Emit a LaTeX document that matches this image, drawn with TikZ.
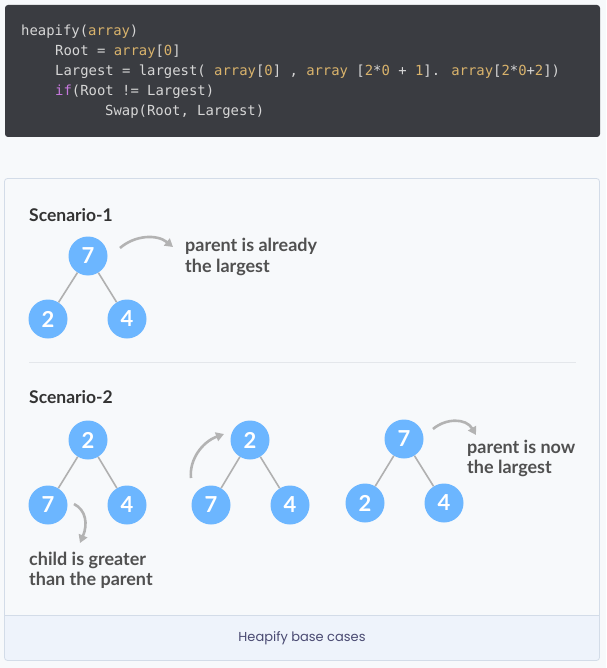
\documentclass[tikz,border=0pt]{standalone}
\usepackage{fontspec}
\setmainfont{Lato}
\newfontfamily\codefont{DejaVu Sans Mono}
\newfontfamily\capfont{Poppins}
\usetikzlibrary{arrows.meta}
\definecolor{bgc}{HTML}{F7F9FB}
\definecolor{codebg}{HTML}{3A3C41}
\definecolor{codetxt}{HTML}{D6D6D6}
\definecolor{codeorg}{HTML}{D9B36C}
\definecolor{codepur}{HTML}{C678DD}
\definecolor{framec}{HTML}{D3DCE8}
\definecolor{capbg}{HTML}{EEF3FB}
\definecolor{captxt}{HTML}{4A4A72}
\definecolor{nodeblue}{HTML}{6CB6FF}
\definecolor{edgec}{HTML}{B0B0B0}
\definecolor{arrc}{HTML}{B3B3B3}
\definecolor{notec}{HTML}{505050}
\definecolor{headc}{HTML}{333333}
\definecolor{sepc}{HTML}{E4E7EB}
\newcommand{\orn}[1]{\textcolor{codeorg}{#1}}
\newcommand{\pur}[1]{\textcolor{codepur}{#1}}
\begin{document}
\begin{tikzpicture}[x=1pt,y=-1pt,
  codeline/.style={anchor=west,inner sep=0pt,text=codetxt,font=\codefont\fontsize{13.9}{16}\selectfont},
  circ/.style={circle,fill=nodeblue,minimum size=39pt,inner sep=0pt,text=white,font=\bfseries\fontsize{22}{22}\selectfont},
  edge/.style={draw=edgec,line width=1.6pt},
  curvy/.style={draw=arrc,line width=2.6pt,-{Triangle[length=8pt,width=9pt]}},
  heading/.style={anchor=west,inner sep=0pt,text=headc,font=\bfseries\fontsize{17.5}{20}\selectfont},
  note/.style={anchor=west,inner sep=0pt,align=left,text=notec,font=\bfseries\fontsize{18}{20.5}\selectfont}]
\fill[bgc] (0,0) rectangle (606,668);
\useasboundingbox (0,0) rectangle (606,668);
% code box
\fill[codebg,rounded corners=3pt] (5,5) rectangle (600,137);
\node[codeline] (c1) at (21,32) {heapify(\orn{array})};
\node[codeline] (c2) at (55,52) {Root = \orn{array}[\orn{0}]};
\node[codeline] (c3) at (55,72) {Largest = largest( \orn{array}[\orn{0}] , \orn{array} [\orn{2}*\orn{0} + \orn{1}]. \orn{array}[\orn{2}*\orn{0}+\orn{2}])};
\node[codeline] (c4) at (55,92) {\pur{if}(Root != Largest)};
\node[codeline] (c5) at (105,112) {Swap(Root, Largest)};
% frame
\fill[bgc,rounded corners=3pt] (4.5,178.5) rectangle (599.5,660.5);
\fill[capbg,rounded corners=3pt] (4.5,615) rectangle (599.5,660.5);
\fill[capbg] (4.5,615) rectangle (599.5,625);
\draw[framec,line width=0.8pt] (4.5,615) -- (599.5,615);
\draw[framec,line width=0.8pt,rounded corners=3pt] (4.5,178.5) rectangle (599.5,660.5);
\node[anchor=center,inner sep=0pt,text=captxt,font=\capfont\fontsize{13}{15}\selectfont] (cap) at (302,638) {Heapify base cases};
% scenario 1
\node[heading] (h1) at (29,215) {Scenario-1};
\node[circ] (s1r) at (88,256) {7};
\node[circ] (s1a) at (48,319) {2};
\node[circ] (s1b) at (127,319) {4};
\draw[edge] (s1r) -- (s1a);
\draw[edge] (s1r) -- (s1b);
\coordinate (a1s) at (120,248);
\coordinate (a1e) at (173,247);
\draw[curvy] (a1s) .. controls (135,235) and (157,234) .. (a1e);
\node[note] (n1) at (185,257) {parent is already\\the largest};
\draw[sepc,line width=1pt] (29,362) -- (576,362);
% scenario 2
\node[heading] (h2) at (29,397) {Scenario-2};
\node[circ] (ar) at (88,440) {2};
\node[circ] (aa) at (48,505) {7};
\node[circ] (ab) at (127,505) {4};
\draw[edge] (ar) -- (aa);
\draw[edge] (ar) -- (ab);
\coordinate (aas) at (74,504);
\coordinate (aae) at (80,543);
\draw[curvy] (aas) .. controls (86,510) and (88,524) .. (aae);
\node[note] (n2) at (29,570.5) {child is greater\\than the parent};
\node[circ] (br) at (250,440) {2};
\node[circ] (ba) at (211,505) {7};
\node[circ] (bb) at (290,505) {4};
\draw[edge] (br) -- (ba);
\draw[edge] (br) -- (bb);
\coordinate (bas) at (191,478);
\coordinate (bae) at (224,434);
\draw[curvy] (bas) .. controls (189,460) and (202,442) .. (bae);
\node[circ] (cr) at (404,439) {7};
\node[circ] (ca) at (365,503) {2};
\node[circ] (cb) at (444,503) {4};
\draw[edge] (cr) -- (ca);
\draw[edge] (cr) -- (cb);
\coordinate (cas) at (433,429);
\coordinate (cae) at (476,435);
\draw[curvy] (cas) .. controls (446,418) and (466,418) .. (cae);
\node[note] (n3) at (467,458.5) {parent is now\\the largest};
\end{tikzpicture}
\end{document}
